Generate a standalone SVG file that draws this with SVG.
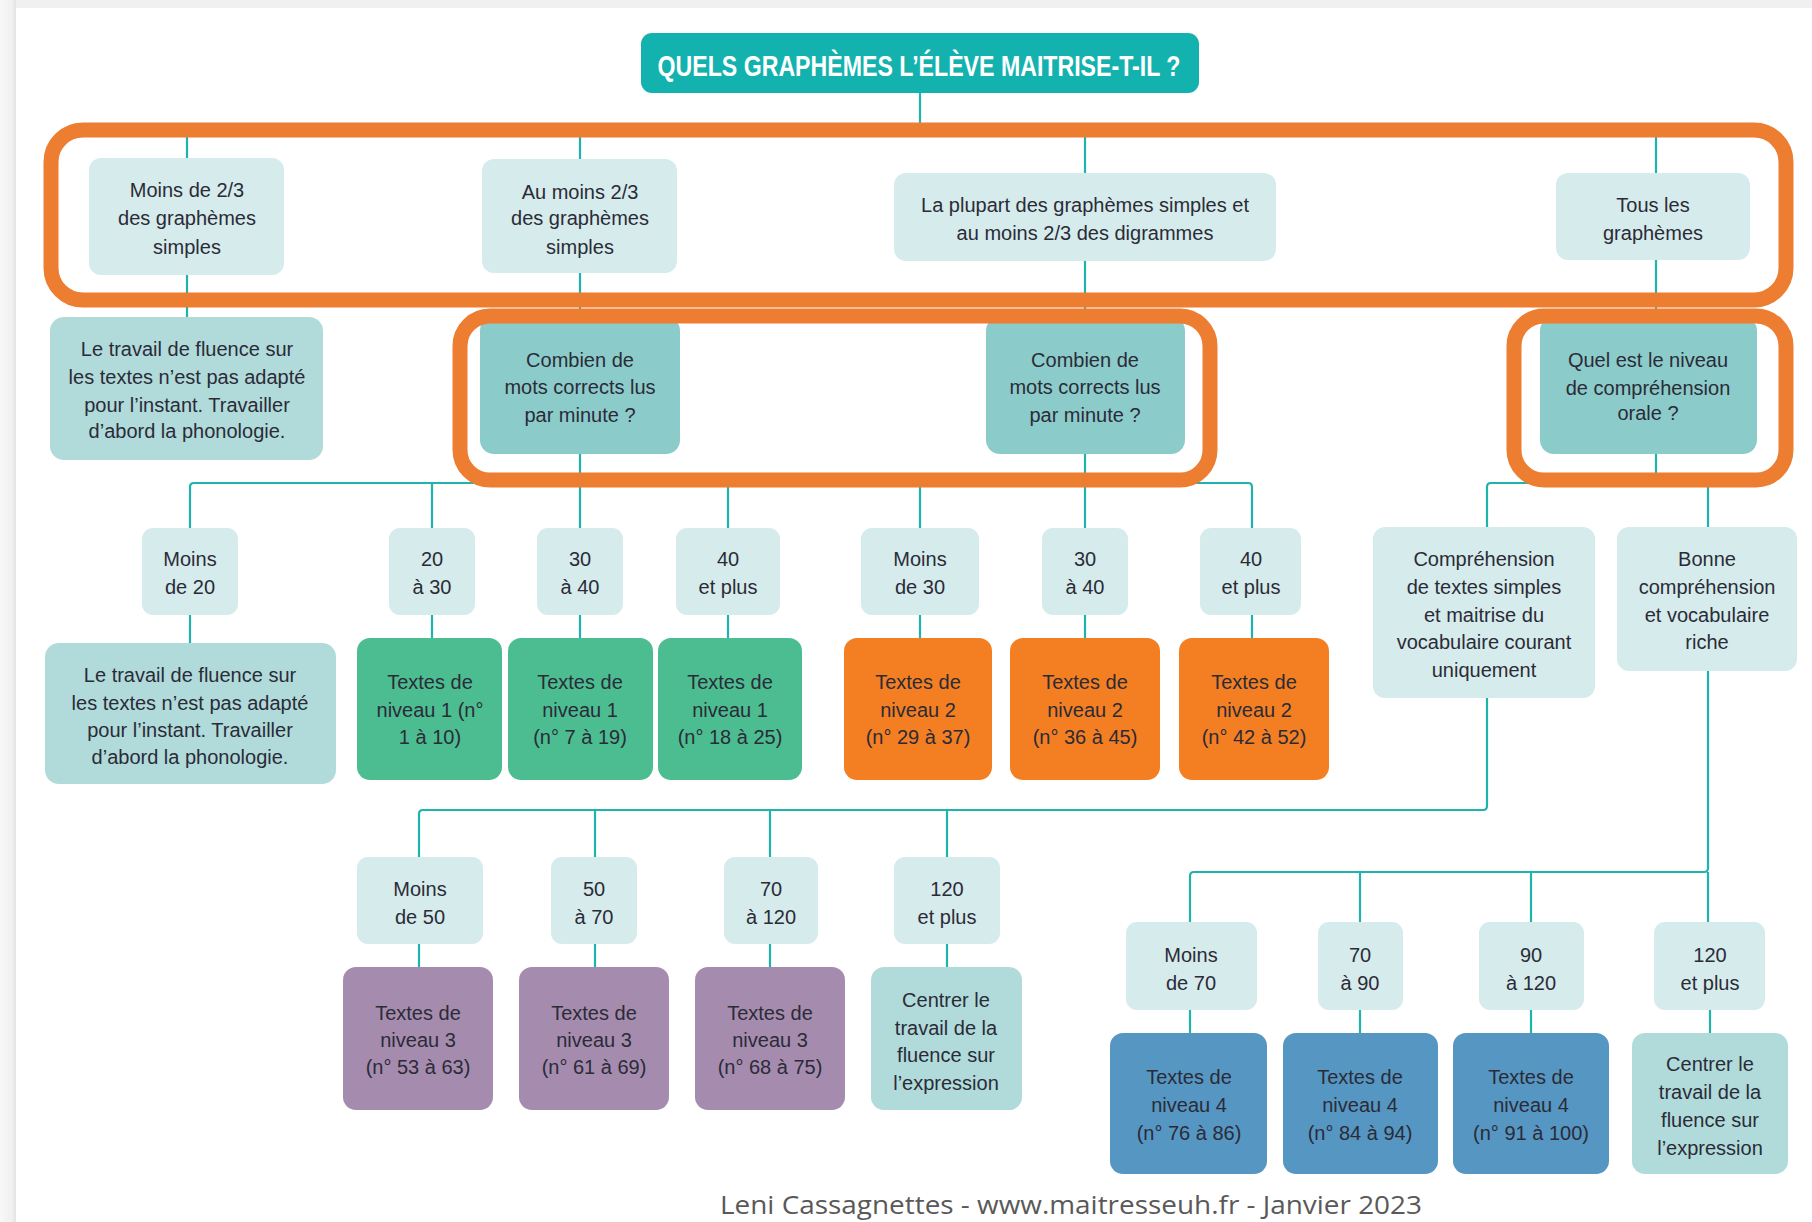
<svg xmlns="http://www.w3.org/2000/svg" width="1812" height="1222" viewBox="0 0 1812 1222">
<defs>
<linearGradient id="edge" x1="0" y1="0" x2="1" y2="0">
<stop offset="0" stop-color="#f8f8f8"/>
<stop offset="0.75" stop-color="#f0f0f0"/>
<stop offset="1" stop-color="#e4e4e4"/>
</linearGradient>
</defs>
<style>
.t{font-family:"Liberation Sans",Arial,sans-serif;font-size:20px;fill:#2b2b38;text-anchor:middle}
.light{fill:#d6ebeb}
.mid{fill:#b0dbda}
.q{fill:#8bcbca}
.green{fill:#4cbd91}
.orange{fill:#f47f22}
.purple{fill:#a58bae}
.blue{fill:#5596c2}
.frame{fill:none;stroke:#ed7d31;stroke-width:15}
#connectors path{fill:none;stroke:#1fb3ad;stroke-width:2.2}
</style>
<rect x="0" y="0" width="1812" height="1222" fill="#ffffff"/>
<rect x="0" y="0" width="1812" height="8" fill="#f0f0f0"/>
<rect x="0" y="0" width="16" height="1222" fill="url(#edge)"/>

<g id="connectors">
<path d="M920,93 V130"/>
<path d="M187,158 V130 H1656 V173"/>
<path d="M580,130 V159"/>
<path d="M1085,130 V173"/>
<path d="M187,275 V317"/>
<path d="M580,273 V317"/>
<path d="M1085,261 V317"/>
<path d="M1656,260 V317"/>
<path d="M580,454 V528"/>
<path d="M190,528 V487 Q190,483 194,483 H728 V528"/>
<path d="M432,483 V528"/>
<path d="M1085,454 V528"/>
<path d="M920,528 V483 H1248 Q1252,483 1252,487 V528"/>
<path d="M1656,454 V483"/>
<path d="M1487,528 V487 Q1487,483 1491,483 H1708 V528"/>
<path d="M190,615 V643"/>
<path d="M432,615 V638"/>
<path d="M580,615 V638"/>
<path d="M728,615 V638"/>
<path d="M920,615 V638"/>
<path d="M1085,615 V638"/>
<path d="M1252,615 V638"/>
<path d="M1487,698 V806 Q1487,810 1483,810 H423 Q419,810 419,814 V857"/>
<path d="M595,810 V857"/>
<path d="M770,810 V857"/>
<path d="M947,810 V857"/>
<path d="M419,944 V967"/>
<path d="M595,944 V967"/>
<path d="M770,944 V967"/>
<path d="M947,944 V967"/>
<path d="M1708,671 V868 Q1708,872 1704,872 H1194 Q1190,872 1190,876 V922"/>
<path d="M1708,872 V922"/>
<path d="M1360,872 V922"/>
<path d="M1531,872 V922"/>
<path d="M1190,1010 V1033"/>
<path d="M1360,1010 V1033"/>
<path d="M1531,1010 V1033"/>
<path d="M1710,1010 V1033"/>
</g>

<g id="title">
<rect x="641" y="33" width="558" height="60" rx="11" fill="#13b2ae"/>
<text x="919" y="76" font-family="Liberation Sans,Arial,sans-serif" font-weight="bold" font-size="30" fill="#ffffff" text-anchor="middle" textLength="523" lengthAdjust="spacingAndGlyphs">QUELS GRAPHÈMES L’ÉLÈVE MAITRISE-T-IL ?</text>
</g>

<g id="n-moins23">
<rect class="light" x="89" y="158" width="195" height="117" rx="12"/>
<text class="t" x="187" y="197">Moins de 2/3</text>
<text class="t" x="187" y="225">des graphèmes</text>
<text class="t" x="187" y="254">simples</text>
</g>
<g id="n-aumoins23">
<rect class="light" x="482" y="159" width="195" height="114" rx="12"/>
<text class="t" x="580" y="199">Au moins 2/3</text>
<text class="t" x="580" y="225">des graphèmes</text>
<text class="t" x="580" y="254">simples</text>
</g>
<g id="n-plupart">
<rect class="light" x="894" y="173" width="382" height="88" rx="12"/>
<text class="t" x="1085" y="212">La plupart des graphèmes simples et</text>
<text class="t" x="1085" y="240">au moins 2/3 des digrammes</text>
</g>
<g id="n-tous">
<rect class="light" x="1556" y="173" width="194" height="87" rx="12"/>
<text class="t" x="1653" y="212">Tous les</text>
<text class="t" x="1653" y="240">graphèmes</text>
</g>

<g id="n-travail1">
<rect class="mid" x="50" y="317" width="273" height="143" rx="14"/>
<text class="t" x="187" y="356">Le travail de fluence sur</text>
<text class="t" x="187" y="384">les textes n’est pas adapté</text>
<text class="t" x="187" y="412">pour l’instant. Travailler</text>
<text class="t" x="187" y="438">d’abord la phonologie.</text>
</g>
<g id="n-combien1">
<rect class="q" x="480" y="317" width="200" height="137" rx="14"/>
<text class="t" x="580" y="367">Combien de</text>
<text class="t" x="580" y="394">mots corrects lus</text>
<text class="t" x="580" y="422">par minute ?</text>
</g>
<g id="n-combien2">
<rect class="q" x="986" y="317" width="199" height="137" rx="14"/>
<text class="t" x="1085" y="367">Combien de</text>
<text class="t" x="1085" y="394">mots corrects lus</text>
<text class="t" x="1085" y="422">par minute ?</text>
</g>
<g id="n-quel">
<rect class="q" x="1540" y="317" width="217" height="137" rx="14"/>
<text class="t" x="1648" y="367">Quel est le niveau</text>
<text class="t" x="1648" y="395">de compréhension</text>
<text class="t" x="1648" y="420">orale ?</text>
</g>

<g id="n-moins20">
<rect class="light" x="142" y="528" width="96" height="87" rx="11"/>
<text class="t" x="190" y="566">Moins</text>
<text class="t" x="190" y="594">de 20</text>
</g>
<g id="n-20a30">
<rect class="light" x="389" y="528" width="86" height="87" rx="11"/>
<text class="t" x="432" y="566">20</text>
<text class="t" x="432" y="594">à 30</text>
</g>
<g id="n-30a40a">
<rect class="light" x="537" y="528" width="86" height="87" rx="11"/>
<text class="t" x="580" y="566">30</text>
<text class="t" x="580" y="594">à 40</text>
</g>
<g id="n-40plusa">
<rect class="light" x="676" y="528" width="104" height="87" rx="11"/>
<text class="t" x="728" y="566">40</text>
<text class="t" x="728" y="594">et plus</text>
</g>
<g id="n-moins30">
<rect class="light" x="861" y="528" width="118" height="87" rx="11"/>
<text class="t" x="920" y="566">Moins</text>
<text class="t" x="920" y="594">de 30</text>
</g>
<g id="n-30a40b">
<rect class="light" x="1042" y="528" width="86" height="87" rx="11"/>
<text class="t" x="1085" y="566">30</text>
<text class="t" x="1085" y="594">à 40</text>
</g>
<g id="n-40plusb">
<rect class="light" x="1200" y="528" width="101" height="87" rx="11"/>
<text class="t" x="1251" y="566">40</text>
<text class="t" x="1251" y="594">et plus</text>
</g>
<g id="n-comprehension">
<rect class="light" x="1373" y="527" width="222" height="171" rx="12"/>
<text class="t" x="1484" y="566">Compréhension</text>
<text class="t" x="1484" y="594">de textes simples</text>
<text class="t" x="1484" y="622">et maitrise du</text>
<text class="t" x="1484" y="649">vocabulaire courant</text>
<text class="t" x="1484" y="677">uniquement</text>
</g>
<g id="n-bonne">
<rect class="light" x="1617" y="527" width="180" height="144" rx="12"/>
<text class="t" x="1707" y="566">Bonne</text>
<text class="t" x="1707" y="594">compréhension</text>
<text class="t" x="1707" y="622">et vocabulaire</text>
<text class="t" x="1707" y="649">riche</text>
</g>

<g id="n-travail2">
<rect class="mid" x="45" y="643" width="291" height="141" rx="14"/>
<text class="t" x="190" y="682">Le travail de fluence sur</text>
<text class="t" x="190" y="710">les textes n’est pas adapté</text>
<text class="t" x="190" y="737">pour l’instant. Travailler</text>
<text class="t" x="190" y="764">d’abord la phonologie.</text>
</g>
<g id="n-n1a">
<rect class="green" x="357" y="638" width="145" height="142" rx="13"/>
<text class="t" x="430" y="689">Textes de</text>
<text class="t" x="430" y="717">niveau 1 (n°</text>
<text class="t" x="430" y="744">1 à 10)</text>
</g>
<g id="n-n1b">
<rect class="green" x="508" y="638" width="145" height="142" rx="13"/>
<text class="t" x="580" y="689">Textes de</text>
<text class="t" x="580" y="717">niveau 1</text>
<text class="t" x="580" y="744">(n° 7 à 19)</text>
</g>
<g id="n-n1c">
<rect class="green" x="658" y="638" width="144" height="142" rx="13"/>
<text class="t" x="730" y="689">Textes de</text>
<text class="t" x="730" y="717">niveau 1</text>
<text class="t" x="730" y="744">(n° 18 à 25)</text>
</g>
<g id="n-n2a">
<rect class="orange" x="844" y="638" width="148" height="142" rx="13"/>
<text class="t" x="918" y="689">Textes de</text>
<text class="t" x="918" y="717">niveau 2</text>
<text class="t" x="918" y="744">(n° 29 à 37)</text>
</g>
<g id="n-n2b">
<rect class="orange" x="1010" y="638" width="150" height="142" rx="13"/>
<text class="t" x="1085" y="689">Textes de</text>
<text class="t" x="1085" y="717">niveau 2</text>
<text class="t" x="1085" y="744">(n° 36 à 45)</text>
</g>
<g id="n-n2c">
<rect class="orange" x="1179" y="638" width="150" height="142" rx="13"/>
<text class="t" x="1254" y="689">Textes de</text>
<text class="t" x="1254" y="717">niveau 2</text>
<text class="t" x="1254" y="744">(n° 42 à 52)</text>
</g>

<g id="n-moins50">
<rect class="light" x="357" y="857" width="126" height="87" rx="11"/>
<text class="t" x="420" y="896">Moins</text>
<text class="t" x="420" y="924">de 50</text>
</g>
<g id="n-50a70">
<rect class="light" x="551" y="857" width="86" height="87" rx="11"/>
<text class="t" x="594" y="896">50</text>
<text class="t" x="594" y="924">à 70</text>
</g>
<g id="n-70a120">
<rect class="light" x="724" y="857" width="94" height="87" rx="11"/>
<text class="t" x="771" y="896">70</text>
<text class="t" x="771" y="924">à 120</text>
</g>
<g id="n-120plusa">
<rect class="light" x="894" y="857" width="106" height="87" rx="11"/>
<text class="t" x="947" y="896">120</text>
<text class="t" x="947" y="924">et plus</text>
</g>

<g id="n-n3a">
<rect class="purple" x="343" y="967" width="150" height="143" rx="13"/>
<text class="t" x="418" y="1020">Textes de</text>
<text class="t" x="418" y="1047">niveau 3</text>
<text class="t" x="418" y="1074">(n° 53 à 63)</text>
</g>
<g id="n-n3b">
<rect class="purple" x="519" y="967" width="150" height="143" rx="13"/>
<text class="t" x="594" y="1020">Textes de</text>
<text class="t" x="594" y="1047">niveau 3</text>
<text class="t" x="594" y="1074">(n° 61 à 69)</text>
</g>
<g id="n-n3c">
<rect class="purple" x="695" y="967" width="150" height="143" rx="13"/>
<text class="t" x="770" y="1020">Textes de</text>
<text class="t" x="770" y="1047">niveau 3</text>
<text class="t" x="770" y="1074">(n° 68 à 75)</text>
</g>
<g id="n-centrer1">
<rect class="mid" x="871" y="967" width="151" height="143" rx="13"/>
<text class="t" x="946" y="1007">Centrer le</text>
<text class="t" x="946" y="1035">travail de la</text>
<text class="t" x="946" y="1062">fluence sur</text>
<text class="t" x="946" y="1090">l’expression</text>
</g>

<g id="n-moins70">
<rect class="light" x="1126" y="922" width="131" height="88" rx="11"/>
<text class="t" x="1191" y="962">Moins</text>
<text class="t" x="1191" y="990">de 70</text>
</g>
<g id="n-70a90">
<rect class="light" x="1318" y="922" width="85" height="88" rx="11"/>
<text class="t" x="1360" y="962">70</text>
<text class="t" x="1360" y="990">à 90</text>
</g>
<g id="n-90a120">
<rect class="light" x="1479" y="922" width="105" height="88" rx="11"/>
<text class="t" x="1531" y="962">90</text>
<text class="t" x="1531" y="990">à 120</text>
</g>
<g id="n-120plusb">
<rect class="light" x="1654" y="922" width="111" height="88" rx="11"/>
<text class="t" x="1710" y="962">120</text>
<text class="t" x="1710" y="990">et plus</text>
</g>

<g id="n-n4a">
<rect class="blue" x="1110" y="1033" width="157" height="141" rx="13"/>
<text class="t" x="1189" y="1084">Textes de</text>
<text class="t" x="1189" y="1112">niveau 4</text>
<text class="t" x="1189" y="1140">(n° 76 à 86)</text>
</g>
<g id="n-n4b">
<rect class="blue" x="1283" y="1033" width="155" height="141" rx="13"/>
<text class="t" x="1360" y="1084">Textes de</text>
<text class="t" x="1360" y="1112">niveau 4</text>
<text class="t" x="1360" y="1140">(n° 84 à 94)</text>
</g>
<g id="n-n4c">
<rect class="blue" x="1453" y="1033" width="156" height="141" rx="13"/>
<text class="t" x="1531" y="1084">Textes de</text>
<text class="t" x="1531" y="1112">niveau 4</text>
<text class="t" x="1531" y="1140">(n° 91 à 100)</text>
</g>
<g id="n-centrer2">
<rect class="mid" x="1632" y="1033" width="156" height="141" rx="13"/>
<text class="t" x="1710" y="1071">Centrer le</text>
<text class="t" x="1710" y="1099">travail de la</text>
<text class="t" x="1710" y="1127">fluence sur</text>
<text class="t" x="1710" y="1155">l’expression</text>
</g>

<g id="frames">
<rect class="frame" x="51" y="130" width="1735" height="170" rx="32"/>
<rect class="frame" x="460" y="316" width="750" height="164" rx="30"/>
<rect class="frame" x="1514" y="316" width="272" height="164" rx="30"/>
</g>

<text x="1071" y="1214" font-family="Open Sans,Liberation Sans,sans-serif" font-size="25" fill="#595959" text-anchor="middle" textLength="702" lengthAdjust="spacingAndGlyphs">Leni Cassagnettes - www.maitresseuh.fr - Janvier 2023</text>
</svg>
